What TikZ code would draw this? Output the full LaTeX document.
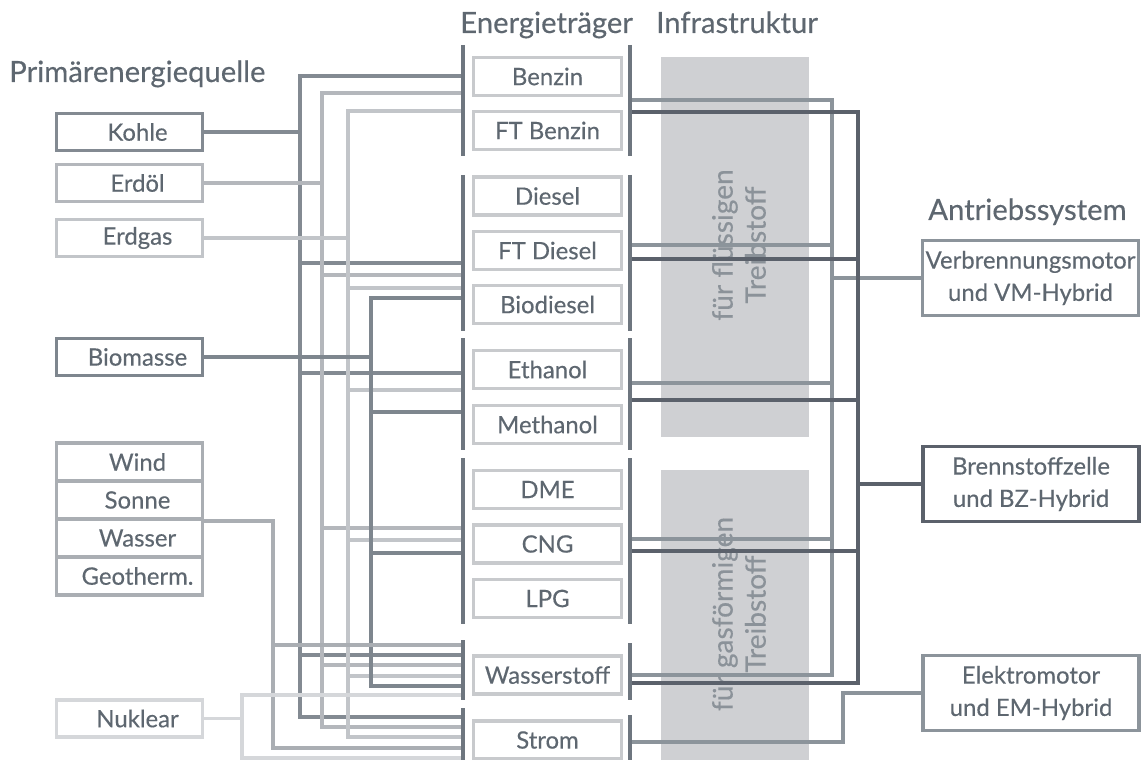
\documentclass[tikz,border=0pt]{standalone}
\usepackage{fontspec}
\setmainfont{Lato}[FakeBold=0.35]
\usepackage{tikz}

\definecolor{txt}{HTML}{5E6770}
\definecolor{kohlec}{HTML}{838A92}
\definecolor{erdoelc}{HTML}{B4B7BC}
\definecolor{erdgasc}{HTML}{C2C5C9}
\definecolor{biomc}{HTML}{7E868E}
\definecolor{erneuc}{HTML}{AAAEB3}
\definecolor{nuklc}{HTML}{D5D7DA}
\definecolor{busc}{HTML}{6E767F}
\definecolor{traegerc}{HTML}{C8CACD}
\definecolor{infrac}{HTML}{CFD0D3}
\definecolor{infratxt}{HTML}{8B9299}
\definecolor{vmc}{HTML}{8C949B}
\definecolor{bzc}{HTML}{5B616B}

\newcommand\boxfont{\fontsize{17}{23}\selectfont}
\newcommand\headfont{\fontsize{20.8}{25}\selectfont}
\newcommand\infrafont{\fontsize{20}{23.5}\selectfont}

\tikzset{
  head/.style={anchor=base west, inner sep=0pt, text=txt, font=\headfont},
  src/.style={draw=#1, line width=2.5pt, minimum width=3.65cm, minimum height=0.925cm,
    inner sep=0pt, text=txt, font=\boxfont, execute at begin node=\hspace*{0.4cm}},
  traeger/.style={draw=traegerc, line width=2.5pt, minimum width=3.7cm, minimum height=0.95cm,
    inner sep=0pt, text=txt, font=\boxfont},
  antrieb/.style={draw=#1, line width=2.5pt, minimum width=5.4cm, minimum height=1.875cm,
    inner sep=0pt, align=center, text=txt, font=\boxfont},
  infratext/.style={rotate=90, align=center, text=infratxt, font=\infrafont},
  wire/.style={draw=#1, line width=2.6pt},
  bus/.style={draw=busc, line width=3pt}
}

\begin{document}
\begin{tikzpicture}[x=0.025cm,y=-0.025cm]
\useasboundingbox (0,0) rectangle (1141,760);
\coordinate (busL) at (463,0);
\coordinate (busR) at (630,0);

% Infrastruktur
\fill[infrac] (661,57) rectangle (809,437);
\fill[infrac] (661,470) rectangle (809,760);
\node[infratext] (fluessig) at (739,245) {für flüssigen\\Treibstoff};
\node[infratext] (gasfoermig) at (739,614) {für gasförmigen\\Treibstoff};

% headings
\node[head] (hprim) at (9,82) {Primärenergiequelle};
\node[head] (htraeger) at (460,33) {Energieträger};
\node[head] (hinfra) at (656,33) {Infrastruktur};
\node[head] (hantrieb) at (928,220) {Antriebssystem};

% Primaerenergie
\node[src=kohlec] (kohle) at (129.5,132) {Kohle};
\node[src=erdoelc] (erdoel) at (129.5,183) {Erdöl};
\node[src=erdgasc] (erdgas) at (129.5,238) {Erdgas};
\node[src=biomc] (biomasse) at (129.5,357) {Biomasse};
\node[src=erneuc, minimum height=0.95cm] (wind) at (129.5,462) {Wind};
\node[src=erneuc, minimum height=0.95cm] (sonne) at (129.5,500) {Sonne};
\node[src=erneuc, minimum height=0.95cm] (wasser) at (129.5,538) {Wasser};
\node[src=erneuc, minimum height=0.95cm] (geo) at (129.5,576) {Geotherm.};
\node[src=nuklc] (nuklear) at (129.5,718.5) {Nuklear};

% Energietraeger
\foreach \n/\t/\y in {benzin/Benzin/76.5, ftbenzin/FT Benzin/130.5, diesel/Diesel/196,
    ftdiesel/FT Diesel/250.5, biodiesel/Biodiesel/304.5, ethanol/Ethanol/369.5,
    methanol/Methanol/424.5, dme/DME/489.5, cng/CNG/544, lpg/LPG/598.5,
    wasserstoff/Wasserstoff/675, strom/Strom/740}
  \node[traeger] (\n) at (547.5,\y) {\t};

% Antriebe
\node[antrieb=vmc] (vm) at (1030.5,278) {Verbrennungsmotor\\und VM-Hybrid};
\node[antrieb=bzc] (bz) at (1031,484) {Brennstoffzelle\\und BZ-Hybrid};
\node[antrieb=vmc] (em) at (1031,693) {Elektromotor\\und EM-Hybrid};

% links
\foreach \y in {76,263,373,655,717}
  \draw[wire=kohlec] (kohle.east) -| (300,\y) -- (busL |- 0,\y);
\foreach \y in {93,275,528,665,727}
  \draw[wire=erdoelc] (erdoel.east) -| (322,\y) -- (busL |- 0,\y);
\foreach \y in {111,288,390,540,676,737}
  \draw[wire=erdgasc] (erdgas.east) -| (348,\y) -- (busL |- 0,\y);
\foreach \y in {298,412,553,686}
  \draw[wire=biomc] (biomasse.east) -| (371,\y) -- (busL |- 0,\y);
\foreach \y in {645,748}
  \draw[wire=erneuc] (sonne.south east) -| (273,\y) -- (busL |- 0,\y);
\foreach \y in {695,758}
  \draw[wire=nuklc] (nuklear.east) -| (242,\y) -- (busL |- 0,\y);

% rechts
\foreach \y in {100,245,383,539,675}
  \draw[wire=vmc] (vm.west) -| (832,\y) -- (busR |- 0,\y);
\foreach \y in {112,259,400,551,683}
  \draw[wire=bzc, line width=2.9pt] (bz.west) -| (858,\y) -- (busR |- 0,\y);
\draw[wire=vmc] (em.west) -| (843,742) -- (busR |- 0,742);

% Sammelschienen
\foreach \a/\b in {45/156,175/331,338/450,458/624,640/700,708/760}
  \draw[bus] (busL |- 0,\a) -- (busL |- 0,\b);
\foreach \a/\b in {45/156,175/331,338/450,458/624,643/700,715/760}
  \draw[bus] (busR |- 0,\a) -- (busR |- 0,\b);
\end{tikzpicture}
\end{document}
